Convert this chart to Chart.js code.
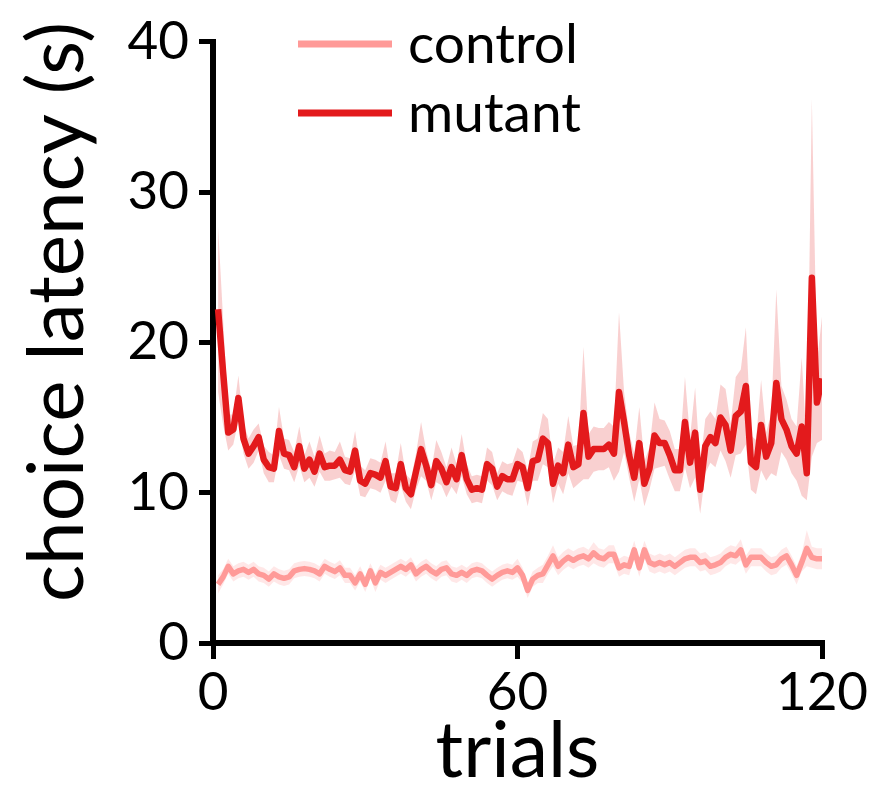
<!DOCTYPE html>
<html>
<head>
<meta charset="utf-8">
<script src="https://cdn.jsdelivr.net/npm/chart.js@4.4.1/dist/chart.umd.min.js"></script>
<style>
html,body{margin:0;padding:0;background:#fff;}
canvas{display:block;}
</style>
</head>
<body>
<canvas id="c" width="876" height="787"></canvas>
<script>
// ---- data ----
const trials = Array.from({length:120}, (_, i) => i + 1);
const seriesNames = ["control", "mutant"];
const xTicks = [0, 60, 120];
const yTicks = [0, 10, 20, 30, 40];
const xTitle = "trials";
const yTitle = "choice latency (s)";

const mutantMean = [
22.2,18.0,14.0,14.2,16.3,13.6,12.6,13.1,13.7,12.2,
11.7,11.6,14.1,12.6,12.5,11.7,13.1,11.6,12.2,11.4,
12.6,11.7,11.8,11.8,12.2,11.5,11.4,12.8,10.8,10.6,
11.3,11.2,11.0,12.1,10.4,10.3,11.9,10.3,9.9,11.4,
12.9,11.8,10.5,12.1,11.6,10.7,11.7,10.9,12.5,10.9,
10.2,10.3,10.2,11.9,11.6,10.4,11.1,10.9,10.9,11.9,
11.7,10.3,12.1,12.2,13.6,13.3,10.6,11.8,11.3,13.2,
11.7,11.9,15.3,12.4,12.9,12.9,12.9,13.2,12.6,16.7,
14.7,12.5,11.0,13.3,10.6,11.6,13.8,13.3,13.3,12.5,
11.5,11.5,14.7,12.0,14.0,10.2,13.1,13.7,13.3,15.0,
14.5,12.8,15.1,15.4,17.1,12.0,11.7,14.5,12.4,13.3,
17.3,14.9,14.2,13.1,12.6,14.4,11.3,24.3,16.0,17.6
];
const mutantSem = [
5.5,3.5,1.2,1.0,1.5,1.0,1.0,1.1,0.9,0.9,
1.0,0.9,1.6,1.0,1.0,1.0,1.3,0.9,1.2,1.0,
1.2,0.9,1.0,0.9,1.2,0.9,0.9,1.3,1.0,0.9,
1.0,1.0,1.0,1.3,0.9,1.0,1.4,0.9,1.0,1.2,
1.8,1.0,1.0,1.4,1.1,1.0,1.3,1.0,1.4,1.0,
0.9,0.9,0.9,1.1,1.1,0.9,1.0,1.0,1.1,1.1,
1.0,1.2,1.3,1.4,1.7,1.6,1.3,1.2,1.4,1.9,
1.4,1.3,4.4,1.5,1.5,1.4,1.4,1.5,1.8,5.3,
2.0,1.5,1.6,2.4,1.5,1.4,2.2,1.6,1.5,1.6,
1.4,1.4,3.0,1.7,3.0,1.6,1.8,1.7,1.6,2.2,
2.4,1.8,2.6,2.8,3.9,1.8,1.8,3.0,1.6,2.0,
6.2,2.2,2.0,1.8,1.8,4.6,1.8,11.9,2.7,4.1
];
const controlMean = [
3.9,4.4,5.1,4.6,4.8,4.9,4.7,4.9,4.6,4.5,
4.25,4.6,4.4,4.3,4.4,4.8,4.9,4.95,4.9,4.8,
4.6,5.1,4.9,4.75,5.0,4.5,4.5,4.0,4.6,3.9,
4.8,4.0,4.7,4.5,4.7,4.9,5.1,4.9,5.2,4.6,
4.9,5.1,4.8,4.6,4.9,5.0,4.6,4.5,4.7,4.5,
4.8,4.9,4.8,4.5,4.25,4.5,4.7,4.8,4.7,5.0,
4.5,3.5,4.25,4.5,4.6,5.2,5.8,5.1,5.45,5.7,
5.5,5.7,5.8,5.6,6.0,5.7,5.6,5.9,5.9,5.0,
5.2,5.1,6.2,5.0,6.2,5.35,5.2,5.35,5.2,5.35,
5.1,5.35,5.6,5.7,5.7,5.35,5.45,5.1,5.2,5.35,
5.7,5.9,5.8,6.2,5.2,5.7,5.7,5.7,5.35,5.1,
5.2,5.6,5.8,5.2,4.5,5.35,6.3,5.7,5.6,5.6
];
const controlSem = [
0.6,0.5,0.5,0.5,0.5,0.5,0.5,0.5,0.5,0.5,
0.5,0.5,0.5,0.5,0.5,0.5,0.5,0.5,0.5,0.5,
0.5,0.5,0.5,0.5,0.5,0.5,0.5,0.5,0.5,0.5,
0.5,0.6,0.5,0.5,0.5,0.5,0.5,0.5,0.5,0.5,
0.5,0.5,0.5,0.5,0.5,0.5,0.5,0.5,0.5,0.5,
0.5,0.5,0.5,0.5,0.5,0.5,0.5,0.5,0.5,0.6,
0.5,0.5,0.5,0.5,0.6,0.6,0.7,0.6,0.6,0.6,
0.6,0.6,0.6,0.6,0.7,0.6,0.6,0.6,0.6,0.6,
0.6,0.6,0.6,0.6,0.6,0.6,0.6,0.6,0.6,0.6,
0.6,0.6,0.6,0.6,0.6,0.6,0.6,0.6,0.6,0.6,
0.6,0.6,0.6,0.7,0.6,0.6,0.6,0.6,0.6,0.6,
0.6,0.6,0.6,0.6,0.6,0.6,1.2,0.7,0.7,0.7
];

// ---- styles ----
const MUT = '#e31a1c', CTL = '#ff9a98';
const FONT = 'Lato';

const pts = (arr) => trials.map((t, i) => ({x: t, y: arr[i]}));
const up = (m, s) => m.map((v, i) => v + s[i]);
const lo = (m, s) => m.map((v, i) => v - s[i]);

const lineCommon = {pointRadius: 0, tension: 0, fill: false, borderJoinStyle: 'round', order: 0};
const bandCommon = {pointRadius: 0, tension: 0, borderWidth: 0, order: 1};

const textPlugin = {
  id: 'legendAndTitle',
  afterDraw(chart) {
    const ctx = chart.ctx;
    ctx.save();
    const items = [[seriesNames[0], CTL, 44], [seriesNames[1], MUT, 113]];
    for (const [name, col, y] of items) {
      ctx.strokeStyle = col; ctx.lineWidth = 7; ctx.lineCap = 'butt';
      ctx.beginPath(); ctx.moveTo(298, y); ctx.lineTo(392, y); ctx.stroke();
      ctx.fillStyle = '#000'; ctx.font = '55px ' + FONT; ctx.textBaseline = 'middle';
      ctx.textAlign = 'left';
      ctx.fillText(name, 408, y + 1);
    }
    // y-axis title
    ctx.translate(58, 312);
    ctx.rotate(-Math.PI / 2);
    ctx.font = '78px ' + FONT;
    ctx.textAlign = 'center';
    ctx.textBaseline = 'middle';
    ctx.fillStyle = '#000';
    ctx.fillText(yTitle, 0, 0);
    ctx.restore();
  }
};

new Chart(document.getElementById('c'), {
  type: 'line',
  data: {
    datasets: [
      Object.assign({label: seriesNames[1], data: pts(mutantMean), borderColor: MUT, borderWidth: 6.5}, lineCommon),
      Object.assign({label: seriesNames[0], data: pts(controlMean), borderColor: CTL, borderWidth: 5.5}, lineCommon),
      Object.assign({label: 'mutant upper', data: pts(up(mutantMean, mutantSem)), fill: '+1', backgroundColor: 'rgba(230,60,60,0.24)'}, bandCommon),
      Object.assign({label: 'mutant lower', data: pts(lo(mutantMean, mutantSem)), fill: false}, bandCommon),
      Object.assign({label: 'control upper', data: pts(up(controlMean, controlSem)), fill: '+1', backgroundColor: 'rgba(255,120,120,0.18)'}, bandCommon),
      Object.assign({label: 'control lower', data: pts(lo(controlMean, controlSem)), fill: false}, bandCommon)
    ]
  },
  options: {
    responsive: false,
    devicePixelRatio: 1,
    animation: false,
    layout: {padding: {left: 0, top: 33, right: 54, bottom: 0}},
    plugins: {legend: {display: false}, tooltip: {enabled: false}},
    scales: {
      x: {
        type: 'linear', min: 0, max: 120,
        afterBuildTicks: (s) => { s.ticks = xTicks.map(v => ({value: v})); },
        afterFit: (s) => { s.height = 787 - 643; },
        grid: {display: true, drawOnChartArea: false, drawTicks: true, tickLength: 16, lineWidth: 5, color: '#000'},
        border: {display: true, width: 6, color: '#000'},
        ticks: {color: '#000', font: {family: FONT, size: 53}, padding: 2, maxRotation: 0},
        title: {display: true, text: xTitle, color: '#000', font: {family: FONT, size: 77, lineHeight: 1}, padding: {top: 0, bottom: -4}}
      },
      y: {
        min: 0, max: 40,
        afterBuildTicks: (s) => { s.ticks = yTicks.map(v => ({value: v})); },
        afterFit: (s) => { s.width = 213; },
        grid: {display: true, drawOnChartArea: false, drawTicks: true, tickLength: 14, lineWidth: 5, color: '#000'},
        border: {display: true, width: 6, color: '#000'},
        ticks: {color: '#000', font: {family: FONT, size: 53}, padding: 10},
        title: {display: false}
      }
    }
  },
  plugins: [textPlugin]
});
</script>
</body>
</html>
